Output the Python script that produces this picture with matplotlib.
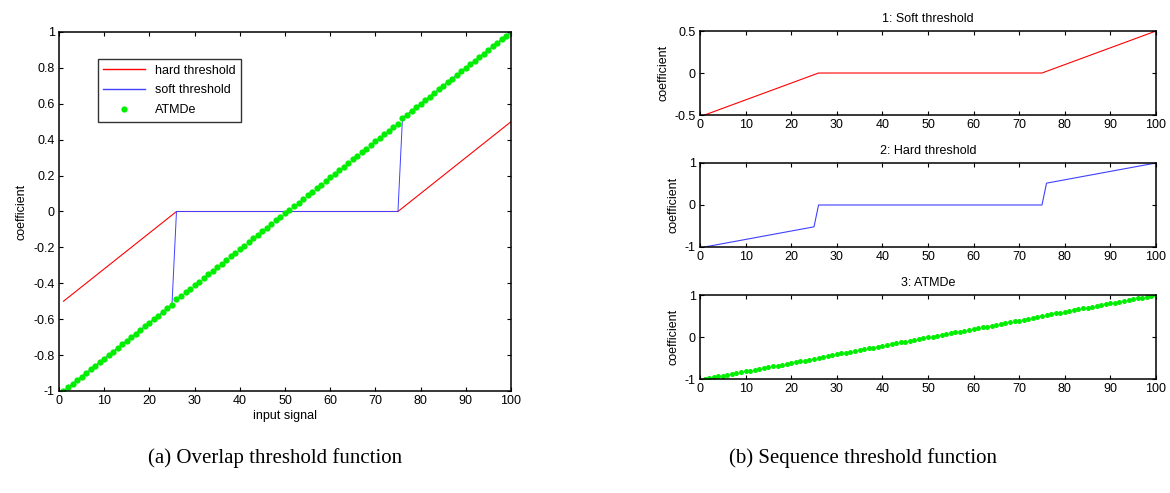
import matplotlib
matplotlib.use("Agg")
import matplotlib.pyplot as plt
from matplotlib.ticker import FuncFormatter

plt.rcParams["font.family"] = ["Liberation Sans", "DejaVu Sans"]

# sample index 1..100
sample_idx = list(range(1, 101))

# input signal (ATMDe output follows it)
signal = [
    -1.00, -0.98, -0.96, -0.94, -0.92, -0.90, -0.88, -0.86, -0.84, -0.82,
    -0.80, -0.78, -0.76, -0.74, -0.72, -0.70, -0.68, -0.66, -0.64, -0.62,
    -0.60, -0.58, -0.56, -0.54, -0.52, -0.49, -0.47, -0.45, -0.43, -0.41,
    -0.39, -0.37, -0.35, -0.33, -0.31, -0.29, -0.27, -0.25, -0.23, -0.21,
    -0.19, -0.17, -0.15, -0.13, -0.11, -0.09, -0.07, -0.05, -0.03, -0.01,
    0.01, 0.03, 0.05, 0.07, 0.09, 0.11, 0.13, 0.15, 0.17, 0.19,
    0.21, 0.23, 0.25, 0.27, 0.29, 0.31, 0.33, 0.35, 0.37, 0.39,
    0.41, 0.43, 0.45, 0.47, 0.49, 0.52, 0.54, 0.56, 0.58, 0.60,
    0.62, 0.64, 0.66, 0.68, 0.70, 0.72, 0.74, 0.76, 0.78, 0.80,
    0.82, 0.84, 0.86, 0.88, 0.90, 0.92, 0.94, 0.96, 0.98, 1.00,
]

# red curve (shrinks toward zero)
red_curve = [
    -0.50, -0.48, -0.46, -0.44, -0.42, -0.40, -0.38, -0.36, -0.34, -0.32,
    -0.30, -0.28, -0.26, -0.24, -0.22, -0.20, -0.18, -0.16, -0.14, -0.12,
    -0.10, -0.08, -0.06, -0.04, -0.02, 0.0, 0.0, 0.0, 0.0, 0.0,
    0.0, 0.0, 0.0, 0.0, 0.0, 0.0, 0.0, 0.0, 0.0, 0.0,
    0.0, 0.0, 0.0, 0.0, 0.0, 0.0, 0.0, 0.0, 0.0, 0.0,
    0.0, 0.0, 0.0, 0.0, 0.0, 0.0, 0.0, 0.0, 0.0, 0.0,
    0.0, 0.0, 0.0, 0.0, 0.0, 0.0, 0.0, 0.0, 0.0, 0.0,
    0.0, 0.0, 0.0, 0.0, 0.0, 0.02, 0.04, 0.06, 0.08, 0.10,
    0.12, 0.14, 0.16, 0.18, 0.20, 0.22, 0.24, 0.26, 0.28, 0.30,
    0.32, 0.34, 0.36, 0.38, 0.40, 0.42, 0.44, 0.46, 0.48, 0.50,
]

# blue curve (keeps values beyond threshold)
blue_curve = [
    -1.00, -0.98, -0.96, -0.94, -0.92, -0.90, -0.88, -0.86, -0.84, -0.82,
    -0.80, -0.78, -0.76, -0.74, -0.72, -0.70, -0.68, -0.66, -0.64, -0.62,
    -0.60, -0.58, -0.56, -0.54, -0.52, 0.0, 0.0, 0.0, 0.0, 0.0,
    0.0, 0.0, 0.0, 0.0, 0.0, 0.0, 0.0, 0.0, 0.0, 0.0,
    0.0, 0.0, 0.0, 0.0, 0.0, 0.0, 0.0, 0.0, 0.0, 0.0,
    0.0, 0.0, 0.0, 0.0, 0.0, 0.0, 0.0, 0.0, 0.0, 0.0,
    0.0, 0.0, 0.0, 0.0, 0.0, 0.0, 0.0, 0.0, 0.0, 0.0,
    0.0, 0.0, 0.0, 0.0, 0.0, 0.52, 0.54, 0.56, 0.58, 0.60,
    0.62, 0.64, 0.66, 0.68, 0.70, 0.72, 0.74, 0.76, 0.78, 0.80,
    0.82, 0.84, 0.86, 0.88, 0.90, 0.92, 0.94, 0.96, 0.98, 1.00,
]

x_ticks = [0, 10, 20, 30, 40, 50, 60, 70, 80, 90, 100]
left_yticks = [-1, -0.8, -0.6, -0.4, -0.2, 0, 0.2, 0.4, 0.6, 0.8, 1]

RED = "#ff0000"
BLUE = "#4040ff"
GREEN = "#00ee00"
FS = 9


def fmt(v, pos):
    return "%g" % round(v, 2)


def matlab_style(ax):
    ax.tick_params(direction="in", top=True, right=True, length=3,
                   width=0.8, labelsize=FS, pad=3)
    for s in ax.spines.values():
        s.set_linewidth(1.1)
    ax.set_xlim(0, 100)
    ax.set_xticks(x_ticks)
    ax.yaxis.set_major_formatter(FuncFormatter(fmt))


fig = plt.figure(figsize=(11.7, 4.93), dpi=100)

# (a) overlap
ax = fig.add_axes([0.0504, 0.2069, 0.3863, 0.7282])
ax.plot(sample_idx, red_curve, color=RED, lw=0.8, label="hard threshold")
ax.plot(sample_idx, blue_curve, color=BLUE, lw=0.7, label="soft threshold")
ax.plot(sample_idx, signal, "o", color=GREEN, ms=4.5, mew=0, label="ATMDe")
ax.set_ylim(-1, 1)
ax.set_yticks(left_yticks)
matlab_style(ax)
ax.set_xlabel("input signal", fontsize=FS, labelpad=2)
ax.set_ylabel("coefficient", fontsize=FS, labelpad=4)
leg = ax.legend(loc="upper left", bbox_to_anchor=(0.086, 0.925), fontsize=FS,
                frameon=True, fancybox=False, edgecolor="black",
                handlelength=3.3, handletextpad=0.8, borderpad=0.45,
                labelspacing=0.62, borderaxespad=0)
leg.get_frame().set_linewidth(1.0)
for h in leg.legend_handles[:2]:
    h.set_linewidth(1.0)

# (b) sequence
rx, rw, rh = 0.5983, 0.3897, 0.1704
ax1 = fig.add_axes([rx, 0.7667, rw, rh])
ax1.plot(sample_idx, red_curve, color=RED, lw=0.8)
ax1.set_ylim(-0.5, 0.5)
ax1.set_yticks([-0.5, 0, 0.5])
matlab_style(ax1)
ax1.set_title("1: Soft threshold", fontsize=FS, pad=6.5)
ax1.set_ylabel("coefficient", fontsize=FS)

ax2 = fig.add_axes([rx, 0.499, rw, rh])
ax2.plot(sample_idx, blue_curve, color=BLUE, lw=0.8)
ax2.set_ylim(-1, 1)
ax2.set_yticks([-1, 0, 1])
matlab_style(ax2)
ax2.set_title("2: Hard threshold", fontsize=FS, pad=6.5)
ax2.set_ylabel("coefficient", fontsize=FS)

ax3 = fig.add_axes([rx, 0.2312, rw, rh])
ax3.plot(sample_idx, signal, "o", color=GREEN, ms=3.6, mew=0)
ax3.set_ylim(-1, 1)
ax3.set_yticks([-1, 0, 1])
matlab_style(ax3)
ax3.set_title("3: ATMDe", fontsize=FS, pad=6.5)
ax3.set_ylabel("coefficient", fontsize=FS)

cap_font = ["Liberation Serif", "DejaVu Serif"]
fig.text(0.235, 0.07, "(a) Overlap threshold function", ha="center", va="center",
         fontsize=15, family=cap_font)
fig.text(0.738, 0.07, "(b) Sequence threshold function", ha="center", va="center",
         fontsize=15, family=cap_font)

fig.savefig("out.png", dpi=100)
